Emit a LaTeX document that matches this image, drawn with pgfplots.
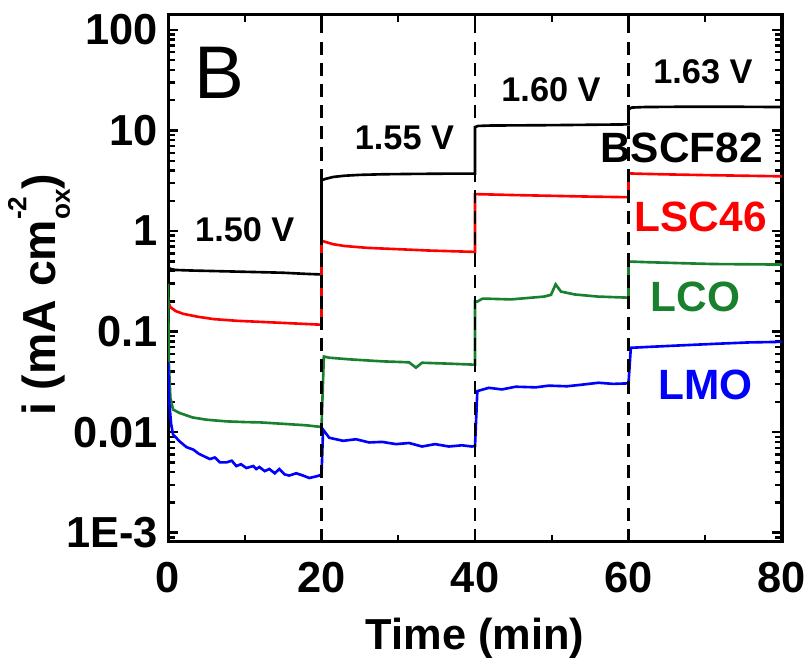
\documentclass[border=0pt]{standalone}
\usepackage{pgfplots}
\pgfplotsset{compat=1.18}
\usepackage{fontspec}
\setmainfont{Liberation Sans}
\definecolor{lcogreen}{RGB}{25,128,45}
\newcommand\supsub[2]{\mbox{\rlap{\raisebox{0.62em}{\fontsize{13}{13}\selectfont #1}}\raisebox{-0.32em}{\fontsize{13}{13}\selectfont #2}}}
\begin{document}
\begin{tikzpicture}
\begin{axis}[
  scale only axis, width=304.3pt, height=261.2pt,
  ymode=log, xmin=0, xmax=80, ymin=8.1e-4, ymax=141,
  xtick={0,20,40,60,80}, minor xtick={10,30,50,70},
  xticklabels={0,20,40,60,80},
  ytick={1e-3,0.01,0.1,1,10,100}, yticklabels={1E-3,0.01,0.1,1,10,100},
  minor ytick={9e-4,2e-3,3e-3,4e-3,5e-3,6e-3,7e-3,8e-3,9e-3,0.02,0.03,0.04,0.05,0.06,0.07,0.08,0.09,0.2,0.3,0.4,0.5,0.6,0.7,0.8,0.9,2,3,4,5,6,7,8,9,20,30,40,50,60,70,80,90},
  tick align=inside, tick pos=both,
  axis line style={line width=1.5pt},
  major tick length=5pt, minor tick length=3.5pt,
  every tick/.style={black, line width=1.2pt},
  tick label style={font=\fontsize{21.5}{21.5}\selectfont\bfseries},
  xticklabel style={anchor=center, yshift=-17.6pt},
  yticklabel style={xshift=-1.5pt},
  /pgf/number format/assume math mode=true,
  xlabel={Time (min)},
  xlabel style={at={(axis description cs:0.5,0)}, anchor=center, yshift=-47.6pt, font=\fontsize{21.5}{21.5}\selectfont\bfseries},
  ylabel={i (mA cm\supsub{-2}{ox})},
  ylabel style={at={(axis description cs:-0.21,0.469)}, anchor=center, font=\fontsize{23}{23}\selectfont\bfseries},
  clip=true,
]
% BSCF82
\addplot[black, line width=1.3pt] coordinates {
(0,0.44) (0.3,0.42) (1,0.41) (3,0.405) (6,0.40) (9,0.395) (12,0.39) (15,0.385) (18,0.375) (20,0.37)
(20,3.2) (20.5,3.3) (21.5,3.45) (23,3.55) (25,3.62) (28,3.67) (32,3.7) (36,3.72) (40,3.73)
(40,10.8) (40.4,11.1) (42,11.2) (46,11.25) (50,11.3) (55,11.4) (60,11.5)
(60,16.2) (60.4,16.9) (62,17.1) (66,17.2) (70,17.2) (75,17.2) (80,17.1)
};
% LSC46
\addplot[red, line width=1.3pt] coordinates {
(0,0.20) (0.3,0.175) (1,0.16) (2,0.15) (4,0.14) (6,0.133) (9,0.128) (12,0.125) (15,0.122) (18,0.119) (20,0.117)
(20,0.80) (20.5,0.78) (21.5,0.74) (23,0.71) (26,0.68) (30,0.66) (34,0.64) (37,0.63) (40,0.62)
(40,2.33) (41,2.32) (45,2.28) (50,2.24) (55,2.2) (60,2.17)
(60,3.75) (61,3.72) (65,3.66) (70,3.6) (75,3.55) (80,3.5)
};
% LCO
\addplot[lcogreen, line width=1.3pt] coordinates {
(0,0.3) (0.1,0.05) (0.3,0.022) (0.65,0.0168) (1.5,0.0155) (3.2,0.0140) (5,0.0133) (7.6,0.0128) (10,0.0126) (12,0.0125) (15,0.0121) (18,0.0117) (19.8,0.0113)
(20,0.0113) (20.3,0.0565) (21,0.055) (23.6,0.053) (27.9,0.0506) (31.4,0.0495) (32.3,0.0438) (33.1,0.049) (36.6,0.048) (39.6,0.047) (40,0.047)
(40,0.199) (40.3,0.199) (41,0.213) (44.7,0.209) (49,0.223) (49.9,0.232) (50.5,0.295) (51.2,0.25) (53,0.234) (56,0.223) (59.6,0.218) (60,0.218)
(60,0.497) (60.2,0.497) (62.5,0.49) (66.9,0.479) (71,0.47) (78.6,0.465) (80,0.464)
};
% LMO
\addplot[blue, line width=1.3pt] coordinates {
(0,0.05) (0.15,0.02) (0.4,0.012) (0.65,0.0095) (1.5,0.0081) (2.4,0.0071) (3.3,0.0067) (4.0,0.0061) (4.6,0.0058) (5.45,0.0054) (6.1,0.0056) (6.75,0.0050) (7.6,0.0050) (8.3,0.0052) (8.9,0.0046) (9.5,0.0048) (10.2,0.0044) (11.1,0.0046) (11.5,0.0043) (11.9,0.0045) (12.6,0.0041) (13.2,0.0043) (13.9,0.0039) (14.5,0.0043) (15.2,0.0038) (15.8,0.0037) (16.7,0.0039) (17.6,0.0037) (18.4,0.0035) (19.1,0.0036) (19.7,0.0037) (20,0.0038)
(20.2,0.0106) (21,0.0088) (22.8,0.0082) (24.5,0.0085) (26.2,0.0079) (27.9,0.0080) (29.7,0.0076) (31.4,0.0078) (33.1,0.0072) (34.8,0.0076) (36.6,0.0072) (38.3,0.0074) (39.6,0.0072) (40,0.0073)
(40.3,0.0256) (41.8,0.0276) (43.5,0.0266) (45.3,0.0283) (47.9,0.0279) (49.6,0.0290) (52,0.0286) (54,0.0297) (56.1,0.0310) (58,0.0302) (59.6,0.0305) (60,0.0306)
(60.3,0.069) (62.7,0.0705) (66.9,0.0730) (71.3,0.0756) (75.6,0.0780) (79.5,0.0790) (80,0.0790)
};
% dashed separators
\addplot[black, line width=1.4pt, dash pattern=on 6.5pt off 4pt] coordinates {(20,8.1e-4) (20,141)};
\addplot[black, line width=1.4pt, dash pattern=on 6.5pt off 4pt] coordinates {(40,8.1e-4) (40,141)};
\addplot[black, line width=1.4pt, dash pattern=on 6.5pt off 4pt] coordinates {(60,8.1e-4) (60,141)};
% labels
\node[font=\fontsize{37}{37}\selectfont] at (axis cs:6.75,37.6) {B};
\node[font=\fontsize{17}{17}\selectfont\bfseries] at (axis cs:10,1.03) {1.50 V};
\node[font=\fontsize{17}{17}\selectfont\bfseries] at (axis cs:30.8,8.5) {1.55 V};
\node[font=\fontsize{17}{17}\selectfont\bfseries] at (axis cs:49.9,25.5) {1.60 V};
\node[font=\fontsize{17}{17}\selectfont\bfseries] at (axis cs:69.7,38.5) {1.63 V};
\node[font=\fontsize{21}{21}\selectfont\bfseries, text=black] at (axis cs:66.9,6.76) {BSCF82};
\node[font=\fontsize{21}{21}\selectfont\bfseries, text=red] at (axis cs:69.4,1.39) {LSC46};
\node[font=\fontsize{21}{21}\selectfont\bfseries, text=lcogreen] at (axis cs:68.7,0.223) {LCO};
\node[font=\fontsize{21}{21}\selectfont\bfseries, text=blue] at (axis cs:70,0.0298) {LMO};
\end{axis}
\pgfresetboundingbox
\path (current axis.south west) ++(-83.3pt,-58pt) coordinate (bbsw);
\path (current axis.north east) ++(12.4pt,7.4pt) coordinate (bbne);
\path[use as bounding box] (bbsw) rectangle (bbne);
\end{tikzpicture}
\end{document}
